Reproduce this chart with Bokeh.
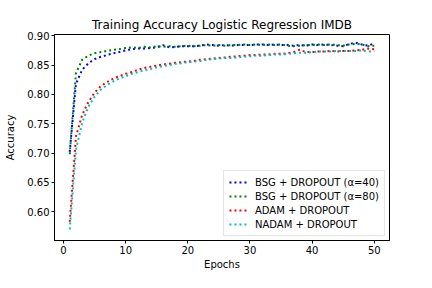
from bokeh.plotting import figure
from bokeh.models import Range1d, FixedTicker, NumeralTickFormatter, Legend, LegendItem
from bokeh.embed import file_html
from bokeh.resources import INLINE

epochs = list(range(1, 51))

bsg40 = [0.702, 0.818, 0.842, 0.853, 0.860, 0.864, 0.867, 0.870, 0.872, 0.875,
         0.877, 0.878, 0.878, 0.879, 0.880, 0.884, 0.880, 0.881, 0.882, 0.882,
         0.882, 0.883, 0.885, 0.884, 0.883, 0.884, 0.883, 0.884, 0.884, 0.884,
         0.885, 0.885, 0.884, 0.885, 0.884, 0.884, 0.883, 0.884, 0.883, 0.885,
         0.884, 0.885, 0.884, 0.883, 0.882, 0.886, 0.888, 0.885, 0.883, 0.887]
bsg80 = [0.698, 0.836, 0.859, 0.866, 0.870, 0.872, 0.874, 0.876, 0.877, 0.879,
         0.880, 0.879, 0.881, 0.880, 0.882, 0.881, 0.882, 0.881, 0.882, 0.883,
         0.882, 0.883, 0.884, 0.883, 0.884, 0.883, 0.884, 0.884, 0.885, 0.884,
         0.885, 0.884, 0.885, 0.884, 0.885, 0.883, 0.882, 0.883, 0.884, 0.884,
         0.885, 0.884, 0.885, 0.884, 0.883, 0.885, 0.886, 0.885, 0.882, 0.883]
adam = [0.583, 0.728, 0.765, 0.787, 0.803, 0.814, 0.821, 0.827, 0.831, 0.835,
        0.838, 0.842, 0.845, 0.847, 0.849, 0.851, 0.852, 0.854, 0.855, 0.856,
        0.857, 0.859, 0.860, 0.861, 0.862, 0.863, 0.864, 0.865, 0.866, 0.867,
        0.867, 0.868, 0.868, 0.869, 0.869, 0.870, 0.872, 0.876, 0.872, 0.872,
        0.873, 0.873, 0.874, 0.873, 0.874, 0.874, 0.875, 0.876, 0.878, 0.877]
nadam = [0.570, 0.705, 0.752, 0.779, 0.796, 0.808, 0.816, 0.822, 0.827, 0.831,
         0.835, 0.838, 0.841, 0.843, 0.846, 0.848, 0.850, 0.852, 0.853, 0.855,
         0.856, 0.857, 0.859, 0.860, 0.861, 0.862, 0.862, 0.863, 0.864, 0.865,
         0.866, 0.866, 0.867, 0.868, 0.868, 0.869, 0.870, 0.871, 0.871, 0.872,
         0.873, 0.873, 0.873, 0.874, 0.874, 0.874, 0.874, 0.875, 0.873, 0.874]

labels = ["BSG + DROPOUT (\u03b1=40)", "BSG + DROPOUT (\u03b1=80)",
          "ADAM + DROPOUT", "NADAM + DROPOUT"]
colors = ["#0000ff", "#008000", "#ff0000", "#00bfbf"]
x_ticks = [0, 10, 20, 30, 40, 50]
y_ticks = [0.60, 0.65, 0.70, 0.75, 0.80, 0.85, 0.90]

FONT = "DejaVu Sans"

p = figure(width=416, height=272, output_backend="svg", toolbar_location=None,
           x_range=Range1d(-1.45, 52.45), y_range=Range1d(0.551, 0.902),
           title="Training Accuracy Logistic Regression IMDB",
           min_border_left=54, min_border_right=27, min_border_top=34,
           min_border_bottom=31)

p.title.align = "center"
p.title.text_font = FONT
p.title.text_font_size = "12px"
p.title.text_font_style = "normal"
p.title.text_color = "black"
p.title.standoff = 6

p.grid.visible = False
p.outline_line_color = "black"
p.outline_line_width = 1
p.background_fill_color = "white"
p.border_fill_color = "white"

items = []
for data, lab, col in zip([bsg40, bsg80, adam, nadam], labels, colors):
    r = p.line(epochs, data, line_color=col, line_width=2, line_dash="2 3")
    items.append(LegendItem(label=lab, renderers=[r]))

for ax in (p.xaxis[0], p.yaxis[0]):
    ax.axis_line_color = "black"
    ax.major_tick_line_color = "black"
    ax.major_tick_out = 3
    ax.major_tick_in = 0
    ax.minor_tick_line_color = None
    ax.major_label_text_font = FONT
    ax.major_label_text_font_size = "10px"
    ax.major_label_text_color = "black"
    ax.axis_label_text_font = FONT
    ax.axis_label_text_font_size = "10px"
    ax.axis_label_text_font_style = "normal"
    ax.axis_label_text_color = "black"
    ax.major_label_standoff = 2
    ax.axis_label_standoff = 2

p.xaxis.axis_label = "Epochs"
p.yaxis.axis_label = "Accuracy"
p.yaxis.axis_label_standoff = 8
p.xaxis.ticker = FixedTicker(ticks=x_ticks)
p.yaxis.ticker = FixedTicker(ticks=y_ticks)
p.yaxis.formatter = NumeralTickFormatter(format="0.00")

legend = Legend(items=items, location="bottom_right")
legend.label_text_font = FONT
legend.label_text_font_size = "10px"
legend.label_text_color = "black"
legend.label_height = 12
legend.glyph_height = 12
legend.glyph_width = 20
legend.label_standoff = 6
legend.spacing = 2
legend.padding = 5
legend.margin = 4
legend.border_line_color = "#cccccc"
legend.border_line_width = 1
legend.background_fill_alpha = 0.8
p.add_layout(legend)

open("out.html", "w").write(file_html(p, INLINE))
